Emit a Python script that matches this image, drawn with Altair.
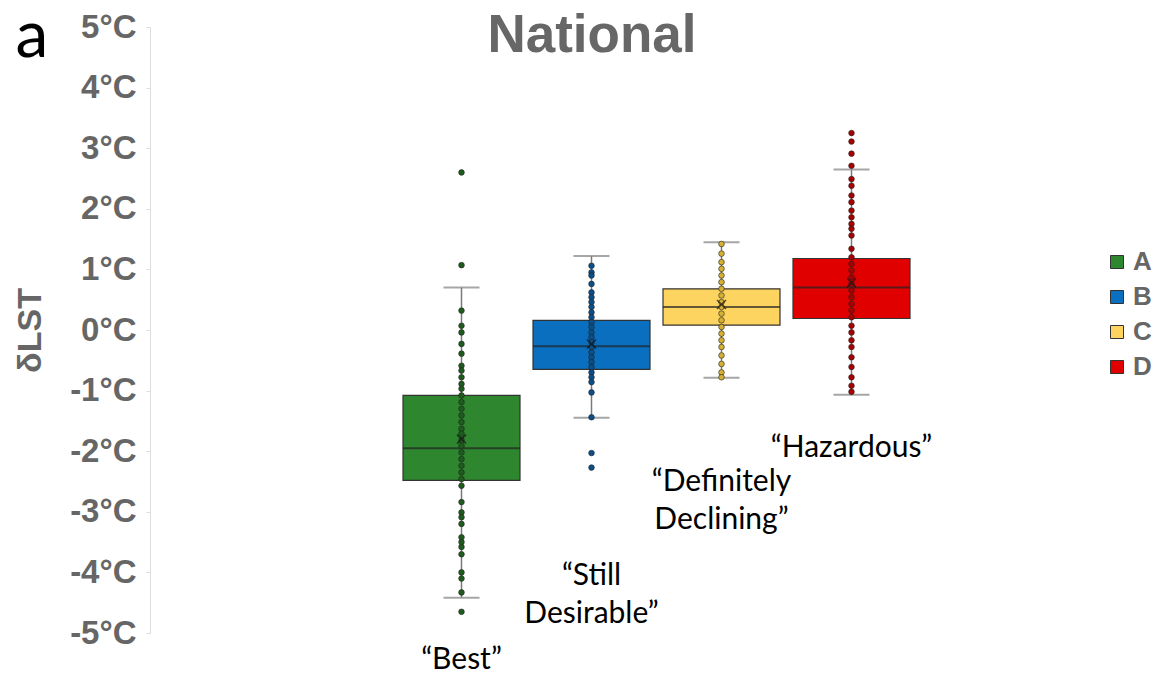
import altair as alt
import pandas as pd

cats = ["A", "B", "C", "D"]
box_colors = ["#2e862e", "#0a6fbf", "#fdd45f", "#e00000"]
dot_colors = ["#1e5c1e", "#0b4f8a", "#d6b033", "#a80000"]

q1 = [-2.48, -0.65, 0.08, 0.19]
med = [-1.95, -0.27, 0.38, 0.70]
q3 = [-1.08, 0.16, 0.68, 1.18]
w_lo = [-4.42, -1.45, -0.79, -1.07]
w_hi = [0.70, 1.22, 1.45, 2.65]
means = [-1.80, -0.23, 0.42, 0.78]

pts_A = [2.60, 1.07, 0.32, 0.07, -0.04, -0.23, -0.39, -0.59, -0.67, -0.78, -0.89, -0.97,
         -1.08, -1.19, -1.30, -1.41, -1.52, -1.63, -1.71, -1.82, -1.91, -2.02, -2.13,
         -2.24, -2.35, -2.46, -2.57, -2.84, -3.01, -3.09, -3.20, -3.42, -3.50, -3.58,
         -3.70, -4.00, -4.10, -4.33, -4.65]
pts_B = [1.06, 0.95, 0.90, 0.76, 0.62, 0.54, 0.46, 0.38, 0.29, 0.21, 0.13, 0.05, -0.04,
         -0.12, -0.20, -0.28, -0.37, -0.45, -0.53, -0.61, -0.70, -0.78, -0.86, -1.03,
         -1.44, -2.03, -2.27]
pts_C = [1.42, 1.26, 1.12, 1.01, 0.90, 0.79, 0.68, 0.57, 0.46, 0.38, 0.27, 0.16, 0.05,
         -0.06, -0.17, -0.28, -0.42, -0.56, -0.70, -0.78]
pts_D = [3.25, 3.11, 2.91, 2.71, 2.49, 2.38, 2.22, 2.11, 1.97, 1.86, 1.75, 1.67, 1.56,
         1.34, 1.20, 1.09, 0.98, 0.87, 0.76, 0.65, 0.54, 0.43, 0.32, 0.21, 0.07, -0.04,
         -0.17, -0.28, -0.45, -0.61, -0.78, -0.92, -1.02]

ann_cat = ["A", "B", "B", "C", "C", "D"]
ann_text = ["\u201cBest\u201d", "\u201cStill", "Desirable\u201d", "\u201cDefinitely",
            "Declining\u201d", "\u201cHazardous\u201d"]
ann_y = [-5.60, -4.21, -4.83, -2.66, -3.28, -2.09]

summary = pd.DataFrame({"cat": cats, "q1": q1, "med": med, "q3": q3,
                        "lo": w_lo, "hi": w_hi, "mean": means})
pts = pd.DataFrame({
    "cat": ["A"] * len(pts_A) + ["B"] * len(pts_B) + ["C"] * len(pts_C) + ["D"] * len(pts_D),
    "v": pts_A + pts_B + pts_C + pts_D,
})
pts["dcol"] = pts["cat"].map(dict(zip(cats, dot_colors)))
ann = pd.DataFrame({"cat": ann_cat, "t": ann_text, "y": ann_y})

FONT = "Liberation Sans"
GRAY = "#666666"

xs = alt.X("cat:N", axis=None,
           scale=alt.Scale(domain=cats, range=[253, 760], paddingInner=0.1, paddingOuter=0))
yscale = alt.Scale(domain=[-5, 5], nice=False, zero=False)
yaxis = alt.Axis(values=list(range(-5, 6)), labelExpr="datum.value + '°C'",
                 labelFont=FONT, labelFontSize=33, labelFontWeight="bold", labelColor=GRAY,
                 domainColor="#dddddd", tickColor="#dddddd", tickSize=4, labelPadding=10,
                 grid=False, title="δLST", titleFont=FONT, titleFontSize=34,
                 titleFontWeight="bold", titleColor=GRAY, titleAngle=270,
                 titleX=-120, titleY=303, titleAlign="center", titleBaseline="middle")

base = alt.Chart(summary)

whisk = base.mark_rule(color="#7a7a7a", strokeWidth=1.5).encode(
    x=xs, y=alt.Y("lo:Q", scale=yscale, axis=yaxis), y2="hi:Q")
cap_lo = base.mark_tick(color="#808080", size=36, thickness=2).encode(x=xs, y="lo:Q")
cap_hi = base.mark_tick(color="#808080", size=36, thickness=2).encode(x=xs, y="hi:Q")
box = base.mark_bar(stroke="#333333", strokeWidth=1.2).encode(
    x=xs, y="q1:Q", y2="q3:Q",
    color=alt.Color("cat:N", scale=alt.Scale(domain=cats, range=box_colors),
                    legend=alt.Legend(title=None, orient="none", legendX=954, legendY=222,
                                      symbolType="square", symbolSize=169,
                                      symbolStrokeColor="#333333", symbolStrokeWidth=1,
                                      labelFont=FONT, labelFontSize=26,
                                      labelFontWeight="bold", labelColor=GRAY,
                                      rowPadding=9, labelOffset=3)))
median = base.mark_tick(color="#222222", size=117, thickness=2).encode(x=xs, y="med:Q")
dots = alt.Chart(pts).mark_circle(size=32, stroke="#222222", strokeWidth=0.6, opacity=1).encode(
    x=xs, y="v:Q", fill=alt.Fill("dcol:N", scale=None))
mean_mk = base.mark_point(shape="M-1,-1L1,1M-1,1L1,-1", size=80, color="#111111",
                          strokeWidth=1.5, filled=False).encode(x=xs, y="mean:Q")
texts = alt.Chart(ann).mark_text(font="Lato", fontSize=30, color="#000000",
                                 baseline="alphabetic", align="center").encode(
    x=xs, y="y:Q", text="t:N")
title = alt.Chart(pd.DataFrame({"t": ["National"]})).mark_text(
    font=FONT, fontSize=53, fontWeight="bold", color="#676767", align="center",
    baseline="alphabetic").encode(text="t:N", x=alt.value(442), y=alt.value(25))
panel = alt.Chart(pd.DataFrame({"t": ["a"]})).mark_text(
    font="Lato", fontSize=66, color="#000000", align="center",
    baseline="alphabetic").encode(text="t:N", x=alt.value(-118), y=alt.value(30))

chart = alt.layer(whisk, cap_lo, cap_hi, box, median, dots, mean_mk, texts, title, panel).properties(
    width=900, height=606,
    autosize=alt.AutoSizeParams(type="none"),
    padding={"left": 142, "top": 19, "right": 103, "bottom": 40},
).configure_view(stroke=None)

chart.save("out.html", embed_options={"renderer": "svg", "actions": False})
